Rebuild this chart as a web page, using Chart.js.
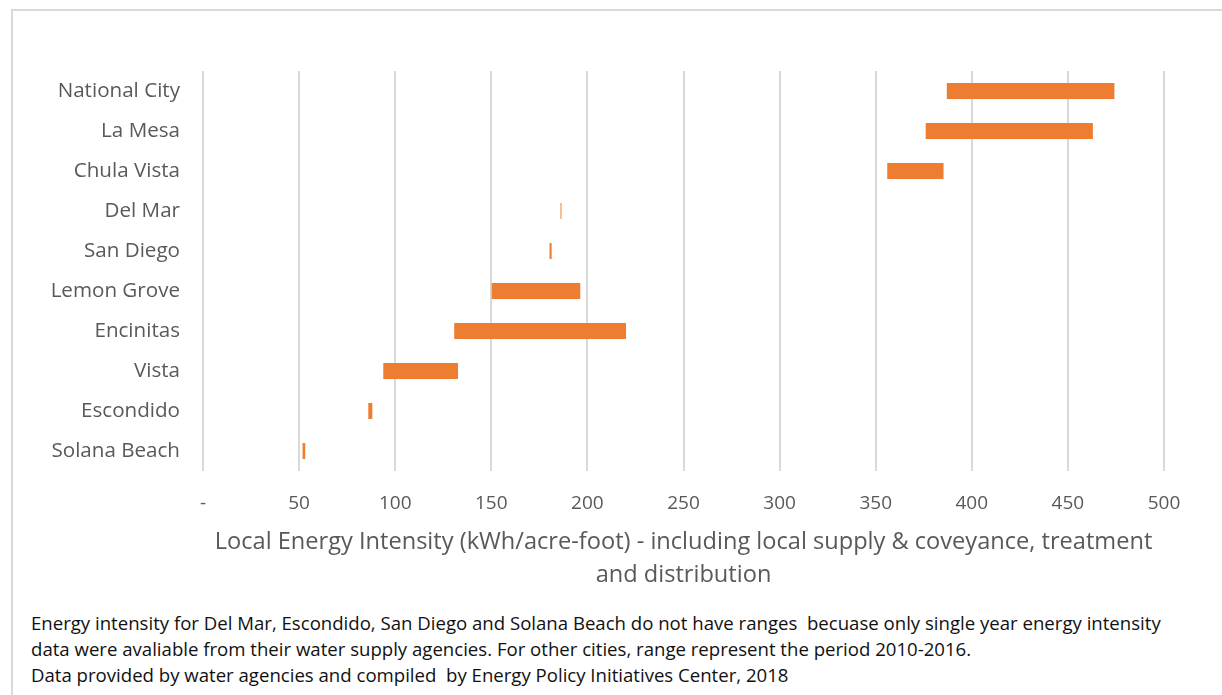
<!DOCTYPE html>
<html>
<head>
<meta charset="utf-8">
<script src="https://cdn.jsdelivr.net/npm/chart.js@4/dist/chart.umd.min.js"></script>
<style>
  html, body { margin: 0; padding: 0; background: #fff; }
  body { width: 1222px; height: 695px; position: relative; overflow: hidden; font-family: "Open Sans", sans-serif; }
  #frame { position: absolute; left: 11px; top: 9px; width: 1215px; height: 700px; border-left: 2px solid #d9d9d9; border-top: 2px solid #d9d9d9; }
  #wrap { position: absolute; left: 0; top: 0; width: 1222px; height: 600px; }
  #note { position: absolute; left: 31px; top: 610px; font-size: 18.6px; line-height: 26px; color: #111; white-space: pre; }
</style>
</head>
<body>
<div id="frame"></div>
<div id="wrap"><canvas id="chart"></canvas></div>
<div id="note">Energy intensity for Del Mar, Escondido, San Diego and Solana Beach do not have ranges  becuase only single year energy intensity
data were avaliable from their water supply agencies. For other cities, range represent the period 2010-2016.
Data provided by water agencies and compiled  by Energy Policy Initiatives Center, 2018</div>
<script>
const cities = ['National City', 'La Mesa', 'Chula Vista', 'Del Mar', 'San Diego', 'Lemon Grove', 'Encinitas', 'Vista', 'Escondido', 'Solana Beach']
const lowValues = [387, 376, 356, 186, 180.3, 150.2, 130.7, 93.8, 86, 51.8]
const highValues = [474.2, 463, 385.3, 186.5, 181.4, 196.3, 220.1, 132.7, 88.1, 53.2]
const xTicks = [0, 50, 100, 150, 200, 250, 300, 350, 400, 450, 500]

let ranges = []
for (let i = 0; i < cities.length; i++) {
    ranges.push([lowValues[i], highValues[i]])
}

let ctx = document.getElementById('chart')
new Chart(ctx, {
    type: 'bar',
    data: {
        labels: cities,
        datasets: [{
            data: ranges,
            backgroundColor: '#ed7d31',
            borderWidth: 0,
            categoryPercentage: 1,
            barPercentage: 0.4
        }]
    },
    options: {
        indexAxis: 'y',
        responsive: true,
        maintainAspectRatio: false,
        animation: false,
        layout: { padding: { left: 0, right: 58, top: 71, bottom: 8 } },
        plugins: { legend: { display: false }, tooltip: { enabled: false } },
        scales: {
            x: {
                min: 0,
                max: 500,
                afterBuildTicks: (scale) => { scale.ticks = xTicks.map(v => ({ value: v })) },
                afterFit: (scale) => { scale.height = 121 },
                grid: { color: '#d9d9d9', lineWidth: 2, drawTicks: false },
                border: { display: false },
                ticks: {
                    padding: 21,
                    color: '#595959',
                    font: { family: 'Open Sans', size: 19 },
                    callback: (v) => v === 0 ? '-' : v
                },
                title: {
                    display: true,
                    text: ['Local Energy Intensity (kWh/acre-foot) - including local supply & coveyance, treatment', 'and distribution'],
                    color: '#595959',
                    font: { family: 'Open Sans', size: 23.6, lineHeight: 1.4 },
                    padding: { top: 12, bottom: 0 }
                }
            },
            y: {
                afterFit: (scale) => { scale.width = 203 },
                grid: { display: false },
                border: { display: false },
                ticks: {
                    padding: 15,
                    color: '#595959',
                    font: { family: 'Open Sans', size: 20.6 }
                }
            }
        }
    }
})
</script>
</body>
</html>
